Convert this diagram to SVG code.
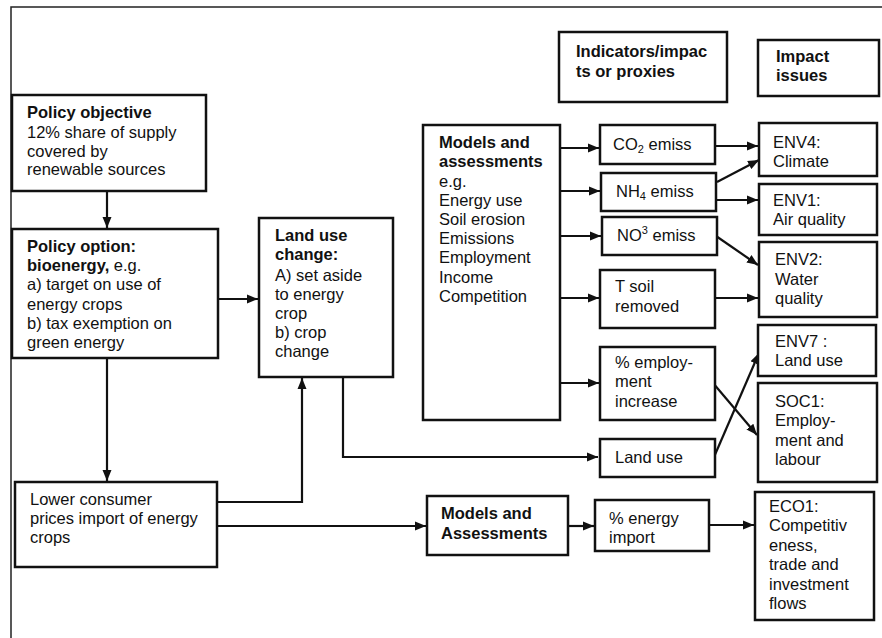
<svg xmlns="http://www.w3.org/2000/svg" width="882" height="638" viewBox="0 0 882 638">
<defs>
<marker id="ah" markerUnits="userSpaceOnUse" markerWidth="11" markerHeight="10" refX="11" refY="5" orient="auto">
<path d="M0,0.5 L11,5 L0,9.5 z" fill="#111"/>
</marker>
<style>
.box{fill:#fff;stroke:#111;stroke-width:2.5}
.t{font-family:"Liberation Sans",Arial,sans-serif;font-size:16.5px;fill:#111}
.b{font-weight:bold}
.c{fill:none;stroke:#111;stroke-width:2.2}
.frame{fill:none;stroke:#222;stroke-width:1.5}
.sub{font-size:11px}
</style>
</defs>
<rect width="882" height="638" fill="#fff"/>
<path class="frame" d="M11,638 V7 H882"/>

<g id="connectors">
<path class="c" d="M107,191 V228" marker-end="url(#ah)"/>
<path class="c" d="M218,299 H258" marker-end="url(#ah)"/>
<path class="c" d="M107,358 V481" marker-end="url(#ah)"/>
<path class="c" d="M217,502 H302 V378" marker-end="url(#ah)"/>
<path class="c" d="M217,526 H426" marker-end="url(#ah)"/>
<path class="c" d="M343,377 V457 H598" marker-end="url(#ah)"/>
<path class="c" d="M560,148 H599" marker-end="url(#ah)"/>
<path class="c" d="M560,191 H600" marker-end="url(#ah)"/>
<path class="c" d="M560,236 H601" marker-end="url(#ah)"/>
<path class="c" d="M560,298 H599" marker-end="url(#ah)"/>
<path class="c" d="M560,383 H599" marker-end="url(#ah)"/>
<path class="c" d="M715,146 H758" marker-end="url(#ah)"/>
<path class="c" d="M717,182 L759,160" marker-end="url(#ah)"/>
<path class="c" d="M716,200 H758" marker-end="url(#ah)"/>
<path class="c" d="M716,236 L758,265" marker-end="url(#ah)"/>
<path class="c" d="M715,298 H758" marker-end="url(#ah)"/>
<path class="c" d="M713,383 L757,435" marker-end="url(#ah)"/>
<path class="c" d="M714,457 L759,353" marker-end="url(#ah)"/>
<path class="c" d="M568,526 H594" marker-end="url(#ah)"/>
<path class="c" d="M709,525 H754" marker-end="url(#ah)"/>
</g>

<g id="policy-objective">
<rect class="box" x="12" y="95" width="194" height="96"/>
<text class="t" x="27" y="118"><tspan class="b">Policy objective</tspan><tspan x="27" y="138">12% share of supply</tspan><tspan x="27" y="157">covered by</tspan><tspan x="27" y="175">renewable sources</tspan></text>
</g>

<g id="policy-option">
<rect class="box" x="12" y="229" width="206" height="129"/>
<text class="t" x="27" y="252"><tspan class="b">Policy option:</tspan><tspan x="27" y="271"><tspan class="b">bioenergy,</tspan> e.g.</tspan><tspan x="27" y="290">a) target on use of</tspan><tspan x="27" y="310">energy crops</tspan><tspan x="27" y="329">b) tax exemption on</tspan><tspan x="27" y="348">green energy</tspan></text>
</g>

<g id="lower-prices">
<rect class="box" x="15" y="482" width="202" height="85"/>
<text class="t" x="30" y="505">Lower consumer<tspan x="30" y="524">prices import of energy</tspan><tspan x="30" y="543">crops</tspan></text>
</g>

<g id="land-use-change">
<rect class="box" x="259" y="218" width="134" height="159"/>
<text class="t" x="275" y="241"><tspan class="b">Land use</tspan><tspan class="b" x="275" y="260">change:</tspan><tspan x="275" y="281">A) set aside</tspan><tspan x="275" y="300">to energy</tspan><tspan x="275" y="319">crop</tspan><tspan x="275" y="338">b) crop</tspan><tspan x="275" y="357">change</tspan></text>
</g>

<g id="models-assessments">
<rect class="box" x="423" y="125" width="137" height="295"/>
<text class="t" x="439" y="148"><tspan class="b">Models and</tspan><tspan class="b" x="439" y="167">assessments</tspan><tspan x="439" y="187">e.g.</tspan><tspan x="439" y="206">Energy use</tspan><tspan x="439" y="225">Soil erosion</tspan><tspan x="439" y="244">Emissions</tspan><tspan x="439" y="263">Employment</tspan><tspan x="439" y="283">Income</tspan><tspan x="439" y="302">Competition</tspan></text>
</g>

<g id="indicators-header">
<rect class="box" x="559" y="32" width="168" height="70"/>
<text class="t b" x="576" y="57">Indicators/impac<tspan x="576" y="77">ts or proxies</tspan></text>
</g>

<g id="impact-header">
<rect class="box" x="758" y="40" width="121" height="56"/>
<text class="t b" x="776" y="62">Impact<tspan x="776" y="81">issues</tspan></text>
</g>

<g id="co2">
<rect class="box" x="600" y="125" width="115" height="39"/>
<text class="t" x="613" y="150">CO<tspan class="sub" dy="3">2</tspan><tspan dy="-3"> emiss</tspan></text>
</g>

<g id="nh4">
<rect class="box" x="601" y="173" width="115" height="38"/>
<text class="t" x="616" y="197">NH<tspan class="sub" dy="3">4</tspan><tspan dy="-3"> emiss</tspan></text>
</g>

<g id="no3">
<rect class="box" x="602" y="217" width="115" height="38"/>
<text class="t" x="617" y="241">NO<tspan class="sub" dy="-7">3</tspan><tspan dy="7"> emiss</tspan></text>
</g>

<g id="tsoil">
<rect class="box" x="600" y="270" width="115" height="58"/>
<text class="t" x="615" y="292">T soil<tspan x="615" y="312">removed</tspan></text>
</g>

<g id="employment">
<rect class="box" x="600" y="347" width="115" height="73"/>
<text class="t" x="615" y="368">% employ-<tspan x="615" y="387">ment</tspan><tspan x="615" y="407">increase</tspan></text>
</g>

<g id="landuse">
<rect class="box" x="600" y="439" width="115" height="38"/>
<text class="t" x="615" y="463">Land use</text>
</g>

<g id="models-assessments-2">
<rect class="box" x="427" y="496" width="141" height="59"/>
<text class="t b" x="441" y="519">Models and<tspan x="441" y="539">Assessments</tspan></text>
</g>

<g id="energy-import">
<rect class="box" x="595" y="500" width="114" height="51"/>
<text class="t" x="609" y="524">% energy<tspan x="609" y="543">import</tspan></text>
</g>

<g id="env4">
<rect class="box" x="759" y="123" width="118" height="53"/>
<text class="t" x="773" y="148">ENV4:<tspan x="773" y="167">Climate</tspan></text>
</g>

<g id="env1">
<rect class="box" x="759" y="184" width="118" height="51"/>
<text class="t" x="773" y="206">ENV1:<tspan x="773" y="225">Air quality</tspan></text>
</g>

<g id="env2">
<rect class="box" x="759" y="242" width="118" height="75"/>
<text class="t" x="775" y="265">ENV2:<tspan x="775" y="285">Water</tspan><tspan x="775" y="304">quality</tspan></text>
</g>

<g id="env7">
<rect class="box" x="758" y="325" width="118" height="51"/>
<text class="t" x="775" y="347">ENV7 :<tspan x="775" y="366">Land use</tspan></text>
</g>

<g id="soc1">
<rect class="box" x="758" y="383" width="119" height="99"/>
<text class="t" x="775" y="407">SOC1:<tspan x="775" y="426">Employ-</tspan><tspan x="775" y="446">ment and</tspan><tspan x="775" y="465">labour</tspan></text>
</g>

<g id="eco1">
<rect class="box" x="755" y="492" width="119" height="128"/>
<text class="t" x="769" y="512">ECO1:<tspan x="769" y="531">Competitiv</tspan><tspan x="769" y="551">eness,</tspan><tspan x="769" y="570">trade and</tspan><tspan x="769" y="590">investment</tspan><tspan x="769" y="609">flows</tspan></text>
</g>
</svg>
